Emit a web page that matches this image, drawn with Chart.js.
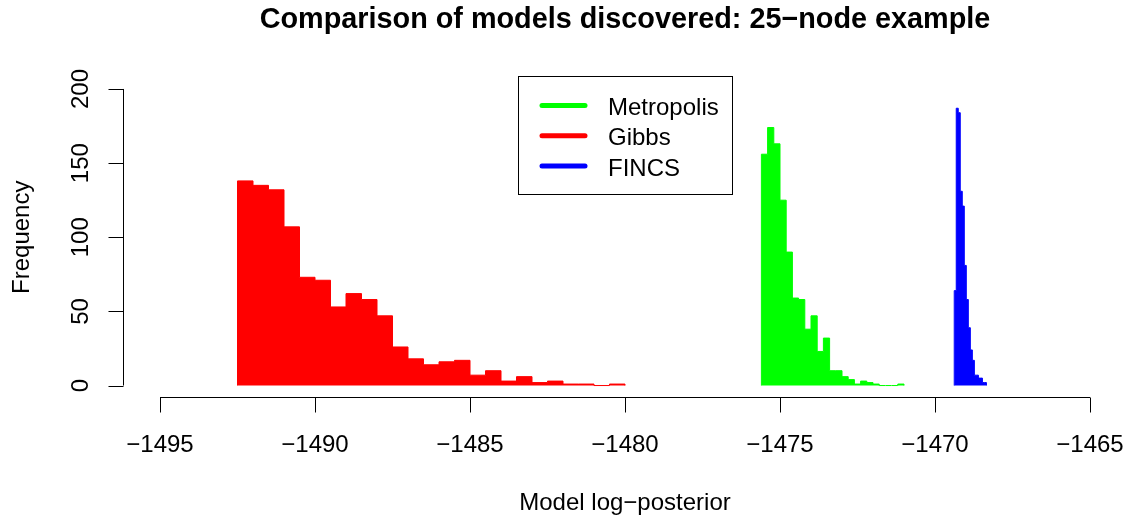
<!DOCTYPE html>
<html>
<head>
<meta charset="utf-8">
<title>Comparison of models discovered</title>
<script src="https://cdn.jsdelivr.net/npm/chart.js@4.4.1/dist/chart.umd.min.js"></script>
<style>
  html, body { margin: 0; padding: 0; background: #fff; }
  #wrap { width: 1132px; height: 519px; }
</style>
</head>
<body>
<div id="wrap"><canvas id="chart" width="1132" height="519"></canvas></div>
<script>
// ── Data ─────────────────────────────────────────────────────────────────────
const seriesNames = ['Metropolis', 'Gibbs', 'FINCS'];
const seriesColors = ['#00ff00', '#ff0000', '#0000ff'];

// Gibbs: bins of 0.5 starting at -1492.5
const gibbsStart = -1492.5;
const gibbsWidth = 0.5;
const gibbsCounts = [138, 135, 132, 107, 73, 71, 53, 62, 58, 47, 26, 18, 14,
                     16, 17, 7, 10, 3, 6, 2, 3, 1, 1, 0, 1];

// Metropolis: bins of 0.2 starting at -1475.6
const metroStart = -1475.6;
const metroWidth = 0.2;
const metroCounts = [156, 174, 163, 125, 90, 59, 58, 38, 47, 23, 32, 10, 10,
                     6, 4, 1, 3, 2, 1, 0, 0, 0, 1];

// FINCS: narrow bins starting at -1469.38
const fincsStart = -1469.38;
const fincsWidth = 0.065;
const fincsCounts = [64, 187, 184, 131, 121, 81, 58, 39, 24, 17, 7, 7, 5, 5, 2, 2];

const xTicks = [-1495, -1490, -1485, -1480, -1475, -1470, -1465];
const yTicks = [0, 50, 100, 150, 200];

const mainTitle = 'Comparison of models discovered: 25\u2212node example';
const xTitle = 'Model log\u2212posterior';
const yTitle = 'Frequency';

const FONT = '"Liberation Sans", Arial, Helvetica, sans-serif';

// histogram outline as a stepped line: baseline, bin tops, baseline
function histPoints(start, width, counts) {
    const pts = [{ x: start, y: 0 }];
    counts.forEach((c, i) => pts.push({ x: start + i * width, y: c }));
    pts.push({ x: start + counts.length * width, y: 0 });
    return pts;
}

function histDataset(label, color, pts) {
    return {
        label: label,
        data: pts,
        stepped: 'before',
        fill: 'origin',
        borderColor: color,
        backgroundColor: color,
        borderWidth: 1,
        pointRadius: 0,
        pointHoverRadius: 0,
    };
}

const fmt = v => String(v).replace('-', '\u2212');

// ── R-style axes, titles and legend ───────────────────────────────────────────
const rDecor = {
    id: 'rDecor',
    afterDraw(chart) {
        const ctx = chart.ctx;
        const xs = chart.scales.x;
        const ys = chart.scales.y;
        const area = chart.chartArea;
        ctx.save();
        ctx.strokeStyle = '#000';
        ctx.fillStyle = '#000';
        ctx.lineWidth = 1;

        // x axis
        const xb = Math.round(area.bottom) + 0.5;
        ctx.beginPath();
        ctx.moveTo(xs.getPixelForValue(xTicks[0]), xb);
        ctx.lineTo(xs.getPixelForValue(xTicks[xTicks.length - 1]), xb);
        xTicks.forEach(t => {
            const px = Math.round(xs.getPixelForValue(t)) + 0.5;
            ctx.moveTo(px, xb);
            ctx.lineTo(px, xb + 15);
        });
        ctx.stroke();
        ctx.font = '24px ' + FONT;
        ctx.textAlign = 'center';
        ctx.textBaseline = 'alphabetic';
        xTicks.forEach(t => ctx.fillText(fmt(t), xs.getPixelForValue(t), 452));

        // y axis
        const yl = Math.round(area.left) + 0.5;
        ctx.beginPath();
        ctx.moveTo(yl, ys.getPixelForValue(yTicks[0]));
        ctx.lineTo(yl, ys.getPixelForValue(yTicks[yTicks.length - 1]));
        yTicks.forEach(t => {
            const py = Math.round(ys.getPixelForValue(t)) + 0.5;
            ctx.moveTo(yl, py);
            ctx.lineTo(yl - 15, py);
        });
        ctx.stroke();
        yTicks.forEach(t => {
            ctx.save();
            ctx.translate(88, ys.getPixelForValue(t));
            ctx.rotate(-Math.PI / 2);
            ctx.fillText(fmt(t), 0, 0);
            ctx.restore();
        });

        // axis titles
        const cx = (area.left + area.right) / 2;
        const cy = (area.top + area.bottom) / 2;
        ctx.fillText(xTitle, cx, 510);
        ctx.save();
        ctx.translate(29, cy);
        ctx.rotate(-Math.PI / 2);
        ctx.fillText(yTitle, 0, 0);
        ctx.restore();

        // main title
        ctx.font = 'bold 28.8px ' + FONT;
        ctx.fillText(mainTitle, cx, 28);

        // legend
        ctx.strokeRect(518.5, 76.5, 214, 118);
        ctx.font = '24px ' + FONT;
        ctx.textAlign = 'left';
        ctx.lineCap = 'round';
        seriesNames.forEach((name, i) => {
            const ly = 105.5 + i * 30.3;
            ctx.strokeStyle = seriesColors[i];
            ctx.lineWidth = 5;
            ctx.beginPath();
            ctx.moveTo(542, ly);
            ctx.lineTo(585, ly);
            ctx.stroke();
            ctx.fillStyle = '#000';
            ctx.fillText(name, 608, ly + 9.6);
        });
        ctx.restore();
    }
};

new Chart(document.getElementById('chart'), {
    type: 'line',
    data: {
        datasets: [
            histDataset('Gibbs', '#ff0000', histPoints(gibbsStart, gibbsWidth, gibbsCounts)),
            histDataset('Metropolis', '#00ff00', histPoints(metroStart, metroWidth, metroCounts)),
            histDataset('FINCS', '#0000ff', histPoints(fincsStart, fincsWidth, fincsCounts)),
        ],
    },
    options: {
        responsive: false,
        animation: false,
        devicePixelRatio: 1,
        layout: { padding: { left: 122.8, right: 4.8, top: 77.1, bottom: 121.6 } },
        plugins: {
            legend: { display: false },
            title: { display: false },
            tooltip: { enabled: false },
        },
        scales: {
            x: { type: 'linear', display: false, min: -1496.2, max: -1463.8 },
            y: { type: 'linear', display: false, min: -8, max: 208 },
        },
    },
    plugins: [rDecor],
});
</script>
</body>
</html>
